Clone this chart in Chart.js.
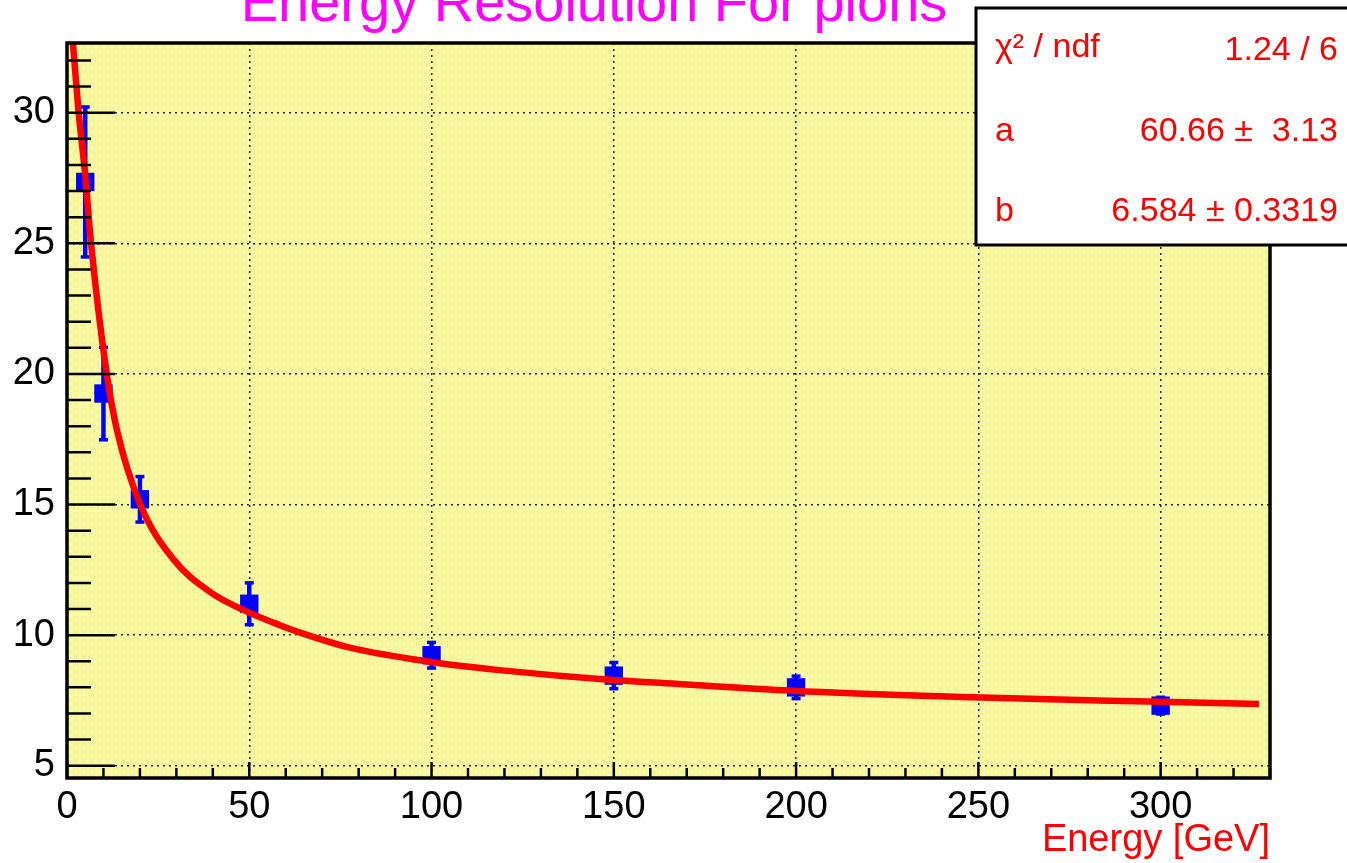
<!DOCTYPE html>
<html><head><meta charset="utf-8">
<script src="https://cdn.jsdelivr.net/npm/chart.js@4/dist/chart.umd.min.js"></script>
<style>html,body{margin:0;padding:0;background:#fff;}#wrap{width:1347px;height:863px;position:relative;}</style>
</head><body><div id="wrap"><canvas id="c" width="1347" height="863"></canvas></div>
<script>
const energies = [5, 10, 20, 50, 100, 150, 200, 300];
const resolution = [27.35, 19.25, 15.2, 11.2, 9.23, 8.45, 8.0, 7.3];
const resolutionErr = [2.9, 1.8, 0.9, 0.83, 0.52, 0.53, 0.46, 0.35];
const fitEnergy = [1.6, 3.2, 5.0, 6.6, 10.8, 13.7, 20.1, 29.2, 39.3, 50.2, 58.4, 63.9, 77.6, 99.5, 118.7, 149.7, 159.8, 199, 248.4, 266.7, 300, 327];
const fitResolution = [32.7, 30.0, 27.6, 25.0, 20.1, 17.85, 15.0, 12.9, 11.65, 10.85, 10.38, 10.1, 9.52, 8.98, 8.66, 8.28, 8.2, 7.87, 7.62, 7.55, 7.45, 7.36];
const xMajorStep = 50, xMinorStep = 10;
const yMajorStep = 5, yMinorStep = 1;
const chartTitle = 'Energy Resolution For pions';
const xTitle = 'Energy [GeV]';
const statLabels = ['χ² / ndf', 'a', 'b'];
const statValues = ['1.24 / 6', '60.66 ±  3.13', '6.584 ± 0.3319'];

const FONT = "'Liberation Sans', Arial, Helvetica, sans-serif";

function makePattern(ctx) {
  const t = document.createElement('canvas');
  t.width = 2; t.height = 2;
  const c = t.getContext('2d');
  c.fillStyle = '#ffffd0'; c.fillRect(0, 0, 2, 2);
  c.fillStyle = '#f5f574'; c.fillRect(0, 0, 1, 1); c.fillRect(1, 1, 1, 1);
  return ctx.createPattern(t, 'repeat');
}

const rootPlugin = {
  id: 'rootStyle',
  beforeDraw(chart) {
    const ctx = chart.ctx, a = chart.chartArea;
    ctx.save();
    ctx.fillStyle = '#ffffff';
    ctx.fillRect(0, 0, chart.width, chart.height);
    ctx.fillStyle = makePattern(ctx);
    ctx.fillRect(a.left, a.top, a.right - a.left, a.bottom - a.top);
    ctx.restore();
  },
  beforeDatasetsDraw(chart) {
    const ctx = chart.ctx, xs = chart.scales.x, ys = chart.scales.y;
    ctx.save();
    ctx.strokeStyle = '#0000ff';
    ctx.fillStyle = '#0000ff';
    energies.forEach((e, i) => {
      const px = xs.getPixelForValue(e);
      const top = ys.getPixelForValue(resolution[i] + resolutionErr[i]);
      const bot = ys.getPixelForValue(resolution[i] - resolutionErr[i]);
      ctx.lineWidth = 4.5;
      ctx.beginPath(); ctx.moveTo(px, top); ctx.lineTo(px, bot); ctx.stroke();
      ctx.fillRect(px - 4.5, top - 1, 9, 3.5);
      ctx.fillRect(px - 4.5, bot - 2.5, 9, 3.5);
    });
    ctx.restore();
  },
  afterDatasetsDraw(chart) {
    const ctx = chart.ctx, xs = chart.scales.x, ys = chart.scales.y, a = chart.chartArea;
    ctx.save();
    ctx.strokeStyle = '#000';
    ctx.lineWidth = 2.5;
    ctx.beginPath();
    for (let v = 0; v <= xs.max + 1e-9; v += xMinorStep) {
      const px = xs.getPixelForValue(v);
      const len = (Math.round(v) % xMajorStep === 0) ? 16 : 10;
      ctx.moveTo(px, a.bottom); ctx.lineTo(px, a.bottom - len);
    }
    for (let v = Math.ceil(ys.min); v <= ys.max + 1e-9; v += yMinorStep) {
      const py = ys.getPixelForValue(v);
      const len = (Math.round(v) % yMajorStep === 0) ? 48 : 24;
      ctx.moveTo(a.left, py); ctx.lineTo(a.left + len, py);
    }
    ctx.stroke();
    ctx.lineWidth = 3.5;
    ctx.strokeRect(a.left, a.top, a.right - a.left, a.bottom - a.top);
    ctx.restore();
  },
  afterDraw(chart) {
    const ctx = chart.ctx, a = chart.chartArea;
    ctx.save();
    ctx.fillStyle = '#ff00ff';
    ctx.font = '56px ' + FONT;
    ctx.textAlign = 'center';
    ctx.textBaseline = 'alphabetic';
    ctx.fillText(chartTitle, 594, 21);
    ctx.fillStyle = '#ff0000';
    ctx.font = '38px ' + FONT;
    ctx.textAlign = 'right';
    ctx.fillText(xTitle, a.right, 851);
    ctx.fillStyle = '#ffffff';
    ctx.fillRect(976, 8, 400, 237);
    ctx.strokeStyle = '#000';
    ctx.lineWidth = 3;
    ctx.strokeRect(976, 8, 400, 237);
    ctx.fillStyle = '#ff0000';
    ctx.font = '34px ' + FONT;
    const rowY = [60, 141, 221];
    statLabels.forEach((s, i) => {
      ctx.textAlign = 'left';
      ctx.fillText(s, 995, rowY[i] - (i === 0 ? 3 : 0));
      ctx.textAlign = 'right';
      ctx.fillText(statValues[i], 1338, rowY[i]);
    });
    ctx.restore();
  }
};

const ctx = document.getElementById('c').getContext('2d');
new Chart(ctx, {
  type: 'scatter',
  data: {
    datasets: [
      {
        type: 'line',
        data: fitEnergy.map((x, i) => ({ x: x, y: fitResolution[i] })),
        borderColor: '#ff0000',
        borderWidth: 6.5,
        pointRadius: 0,
        cubicInterpolationMode: 'monotone',
        fill: false,
        order: 0
      },
      {
        data: energies.map((x, i) => ({ x: x, y: resolution[i] })),
        pointStyle: 'rect',
        pointRadius: 13,
        backgroundColor: '#0000ff',
        borderWidth: 0,
        order: 1
      }
    ]
  },
  options: {
    responsive: false,
    animation: false,
    devicePixelRatio: 1,
    layout: { padding: { top: 43, right: 77, left: 0, bottom: 0 } },
    plugins: { legend: { display: false }, tooltip: { enabled: false } },
    scales: {
      x: {
        type: 'linear', min: 0, max: 330,
        afterFit(s) { s.height = 85; },
        ticks: { stepSize: xMajorStep, includeBounds: false, autoSkip: false, maxRotation: 0,
                 font: { size: 38, family: FONT }, color: '#000', padding: 7 },
        grid: { color: '#222', lineWidth: 1.5, drawTicks: false },
        border: { display: false, dash: [2, 4] }
      },
      y: {
        type: 'linear', min: 4.53, max: 32.67,
        afterFit(s) { s.width = 67; },
        ticks: { stepSize: yMajorStep, includeBounds: false, autoSkip: false,
                 font: { size: 38, family: FONT }, color: '#000', padding: 12 },
        grid: { color: '#222', lineWidth: 1.5, drawTicks: false },
        border: { display: false, dash: [2, 4] }
      }
    }
  },
  plugins: [rootPlugin]
});
</script>
</body></html>
